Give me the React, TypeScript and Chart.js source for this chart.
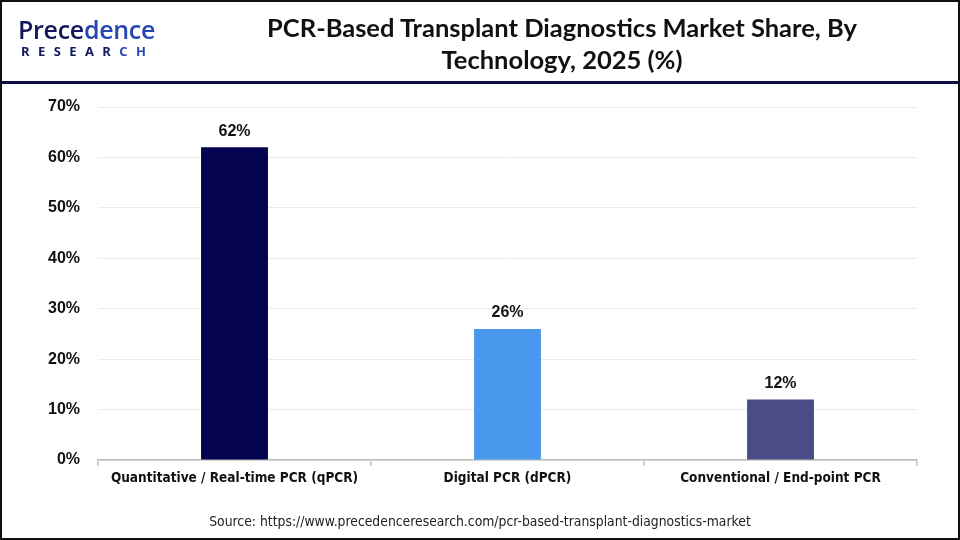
import React, { useEffect, useRef } from "react";
import { Chart, registerables } from "chart.js";

Chart.register(...registerables);

const categories = [
  "Quantitative / Real-time PCR (qPCR)",
  "Digital PCR (dPCR)",
  "Conventional / End-point PCR",
];
const shares = [62, 26, 12];
const barColors = ["#03034f", "#4a97ee", "#4a4c88"];
const yTicks = [0, 10, 20, 30, 40, 50, 60, 70];

const valueLabels = {
  id: "valueLabels",
  afterDatasetsDraw(chart: any) {
    const ctx = chart.ctx;
    const meta = chart.getDatasetMeta(0);
    ctx.save();
    ctx.font = "bold 16px 'Liberation Sans', Arial, sans-serif";
    ctx.fillStyle = "#111111";
    ctx.textAlign = "center";
    ctx.textBaseline = "bottom";
    meta.data.forEach((bar: any, i: number) => {
      ctx.fillText(shares[i] + "%", bar.x, bar.y - 8);
    });
    ctx.restore();
  },
};

export default function App() {
  const ref = useRef<HTMLCanvasElement>(null);
  useEffect(() => {
    if (!ref.current) return;
    const chart = new Chart(ref.current, {
      type: "bar",
      data: {
        labels: categories,
        datasets: [
          {
            data: shares,
            backgroundColor: barColors,
            barPercentage: 0.98,
            categoryPercentage: 0.25,
          },
        ],
      },
      options: {
        animation: false,
        responsive: false,
        maintainAspectRatio: false,
        layout: { padding: { top: 107, left: 0, right: 43, bottom: 38 } },
        plugins: { legend: { display: false }, tooltip: { enabled: false } },
        scales: {
          x: {
            grid: {
              display: true,
              drawOnChartArea: false,
              drawTicks: true,
              tickLength: 6,
              color: "#bdbdbd",
              lineWidth: 1.5,
            },
            border: { display: true, color: "#bdbdbd", width: 1.5 },
            ticks: {
              color: "#111111",
              padding: 4,
              font: { family: "'DejaVu Sans Condensed', 'DejaVu Sans', sans-serif", size: 13.5, weight: "bold" },
              maxRotation: 0,
            },
            afterFit: (s: any) => {
              s.height = 42;
            },
          },
          y: {
            min: 0,
            max: 70,
            afterBuildTicks: (s: any) => {
              s.ticks = yTicks.map((v) => ({ value: v }));
            },
            grid: { color: "#ebebeb", drawTicks: false, lineWidth: 1 },
            border: { display: false },
            ticks: {
              color: "#111111",
              padding: 18,
              font: { family: "'Liberation Sans', Arial, sans-serif", size: 16, weight: "bold" },
              callback: (v: any) => v + "%",
            },
            afterFit: (s: any) => {
              s.width = 98;
            },
          },
        },
      },
      plugins: [valueLabels],
    });
    return () => chart.destroy();
  }, []);

  return (
    <div
      style={{
        position: "fixed",
        left: 0,
        top: 0,
        width: 960,
        height: 540,
        background: "#ffffff",
        boxSizing: "border-box",
        border: "2px solid #111111",
        overflow: "hidden",
      }}
    >
      <canvas
        ref={ref}
        width={960}
        height={540}
        style={{ position: "absolute", left: -2, top: -2, width: 960, height: 540 }}
      />
      <div
        style={{
          position: "absolute",
          left: -2,
          top: 79,
          width: 960,
          height: 3,
          background: "#0b0b45",
        }}
      />
      <div style={{ position: "absolute", left: 16, top: 15, fontFamily: "'Open Sans', sans-serif", lineHeight: 1 }}>
        <div style={{ fontSize: 25, fontWeight: 600, color: "#13175e", letterSpacing: -0.3 }}>
          Prece<span style={{ color: "#2447b8" }}>dence</span>
        </div>
        <div style={{ fontSize: 13, fontWeight: 700, color: "#13175e", letterSpacing: 8.4, marginTop: 3, marginLeft: 3 }}>
          RESEAR<span style={{ color: "#2447b8" }}>CH</span>
        </div>
      </div>
      <div
        style={{
          position: "absolute",
          left: 180,
          width: 760,
          top: 9,
          textAlign: "center",
          fontFamily: "Lato, sans-serif",
          fontWeight: 700,
          fontSize: 25.5,
          lineHeight: "32px",
          color: "#111111",
        }}
      >
        PCR-Based Transplant Diagnostics Market Share, By
        <br />
        Technology, 2025 (%)
      </div>
      <div
        style={{
          position: "absolute",
          left: 0,
          width: 956,
          top: 511,
          textAlign: "center",
          fontFamily: "'DejaVu Sans Condensed', 'DejaVu Sans', sans-serif",
          fontSize: 13.8,
          color: "#222222",
        }}
      >
        Source: https://www.precedenceresearch.com/pcr-based-transplant-diagnostics-market
      </div>
    </div>
  );
}
